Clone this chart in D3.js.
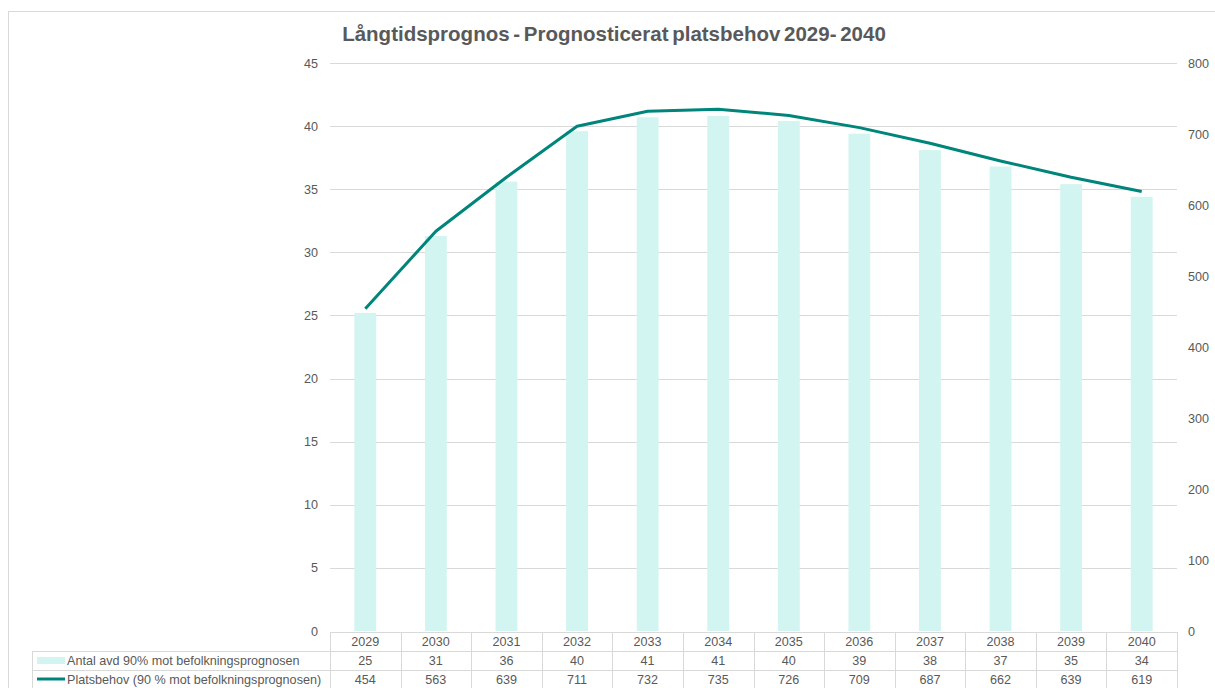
<!DOCTYPE html>
<html>
<head>
<meta charset="utf-8">
<script src="https://cdn.jsdelivr.net/npm/d3@7"></script>
<style>
  body { margin: 0; background: #fff; }
  text { font-family: "Liberation Sans", Arial, sans-serif; fill: #595959; }
</style>
</head>
<body>
<div id="viz"></div>
<script>
// data
let years = ["2029", "2030", "2031", "2032", "2033", "2034", "2035", "2036", "2037", "2038", "2039", "2040"]
let antalAvd = [25.2, 31.3, 35.6, 39.6, 40.7, 40.8, 40.4, 39.4, 38.1, 36.8, 35.4, 34.4]
let platsbehov = [454, 563, 639, 711, 732, 735, 726, 709, 687, 662, 639, 619]
let leftTicks = [0, 5, 10, 15, 20, 25, 30, 35, 40, 45]
let rightTicks = [0, 100, 200, 300, 400, 500, 600, 700, 800]
let seriesNames = ["Antal avd 90% mot befolkningsprognosen", "Platsbehov (90 % mot befolkningsprognosen)"]
let title = "Långtidsprognos - Prognosticerat platsbehov 2029- 2040"

let svgWidth = 1215
let svgHeight = 688

let margin = { left: 330, right: 38, top: 63, bottom: 57 }
let height = svgHeight - margin.top - margin.bottom
let width = svgWidth - margin.left - margin.right

const barColor = "#d3f5f1"
const lineColor = "#00857a"
const gridColor = "#d9d9d9"
const fontSize = '12.6px'

const svg = d3.select('#viz')
    .append('svg')
    .attr('width', svgWidth)
    .attr('height', svgHeight)

// chart frame
svg.append('rect')
    .attr('x', 8.5)
    .attr('y', 11.5)
    .attr('width', svgWidth + 10)
    .attr('height', svgHeight + 10)
    .attr('fill', 'none')
    .attr('stroke', gridColor)

svg.append('text')
    .attr('x', 614)
    .attr('y', 41)
    .attr('text-anchor', 'middle')
    .style('font-size', '20.5px')
    .style('font-weight', 'bold')
    .style('word-spacing', '-2px')
    .text(title)

const g = svg.append('g')
    .attr('transform', `translate(${margin.left},${margin.top})`)

let xScale = d3.scaleBand()
    .domain(years)
    .range([0, width])
    .paddingInner(0.69)
    .paddingOuter(0.345)

let yLeft = d3.scaleLinear().domain([0, 45]).range([height, 0])
let yRight = d3.scaleLinear().domain([0, 800]).range([height, 0])

// gridlines
g.append('g')
    .selectAll('line')
    .data(leftTicks.slice(1))
    .join('line')
    .attr('x1', 0)
    .attr('x2', width)
    .attr('y1', d => Math.round(yLeft(d)) + 0.5)
    .attr('y2', d => Math.round(yLeft(d)) + 0.5)
    .attr('stroke', gridColor)

// left axis
let leftAxis = g.append('g')
    .call(d3.axisLeft(yLeft).tickValues(leftTicks).tickSize(0).tickPadding(12))
leftAxis.select('.domain').remove()
leftAxis.selectAll('text').style('font-size', fontSize).attr('fill', '#595959')

// right axis
let rightAxis = g.append('g')
    .attr('transform', `translate(${width},0)`)
    .call(d3.axisRight(yRight).tickValues(rightTicks).tickSize(0).tickPadding(11))
rightAxis.select('.domain').remove()
rightAxis.selectAll('text').style('font-size', fontSize).attr('fill', '#595959')

// bars
g.append('g')
    .selectAll('rect')
    .data(antalAvd)
    .join('rect')
    .attr('x', (d, i) => xScale(years[i]))
    .attr('y', d => yLeft(d))
    .attr('width', xScale.bandwidth())
    .attr('height', d => height - yLeft(d))
    .attr('fill', barColor)

// line
let line = d3.line()
    .x((d, i) => xScale(years[i]) + xScale.bandwidth() / 2)
    .y(d => yRight(d))

g.append('path')
    .datum(platsbehov)
    .attr('d', line)
    .attr('fill', 'none')
    .attr('stroke', lineColor)
    .attr('stroke-width', 3)
    .attr('stroke-linejoin', 'round')

// data table
let rowH = 19
let tableTop = height + 1
let table = g.append('g').attr('transform', `translate(0,${tableTop})`)
let step = xScale.step()
let fmt = d3.format('.0f')
let rows = [years, antalAvd.map(fmt), platsbehov.map(String)]

// horizontal lines
table.append('g')
    .selectAll('line')
    .data([0, 1, 2, 3])
    .join('line')
    .attr('x1', d => d == 0 ? 0 : 32 - margin.left)
    .attr('x2', width)
    .attr('y1', d => Math.round(d * rowH) + 0.5)
    .attr('y2', d => Math.round(d * rowH) + 0.5)
    .attr('stroke', gridColor)

// vertical lines
table.append('g')
    .selectAll('line')
    .data(d3.range(years.length + 1))
    .join('line')
    .attr('x1', d => Math.round(d * step) + 0.5)
    .attr('x2', d => Math.round(d * step) + 0.5)
    .attr('y1', 0)
    .attr('y2', rowH * 3 + 5)
    .attr('stroke', gridColor)

table.append('line')
    .attr('x1', 32.5 - margin.left)
    .attr('x2', 32.5 - margin.left)
    .attr('y1', rowH)
    .attr('y2', rowH * 3 + 5)
    .attr('stroke', gridColor)

rows.forEach((row, r) => {
    table.append('g')
        .selectAll('text')
        .data(row)
        .join('text')
        .attr('x', (d, i) => xScale(years[i]) + xScale.bandwidth() / 2)
        .attr('y', r * rowH + rowH / 2 + 0.5)
        .attr('dy', '0.35em')
        .attr('text-anchor', 'middle')
        .style('font-size', fontSize)
        .text(d => d)
})

// legend keys
table.append('rect')
    .attr('x', 37 - margin.left)
    .attr('y', rowH + 6)
    .attr('width', 28)
    .attr('height', 7)
    .attr('fill', barColor)

table.append('line')
    .attr('x1', 37 - margin.left)
    .attr('x2', 65 - margin.left)
    .attr('y1', rowH * 2 + 9)
    .attr('y2', rowH * 2 + 9)
    .attr('stroke', lineColor)
    .attr('stroke-width', 3)

table.append('g')
    .selectAll('text')
    .data(seriesNames)
    .join('text')
    .attr('x', 67 - margin.left)
    .attr('y', (d, i) => (i + 1) * rowH + rowH / 2 + 0.5)
    .attr('dy', '0.35em')
    .style('font-size', fontSize)
    .text(d => d)
</script>
</body>
</html>
